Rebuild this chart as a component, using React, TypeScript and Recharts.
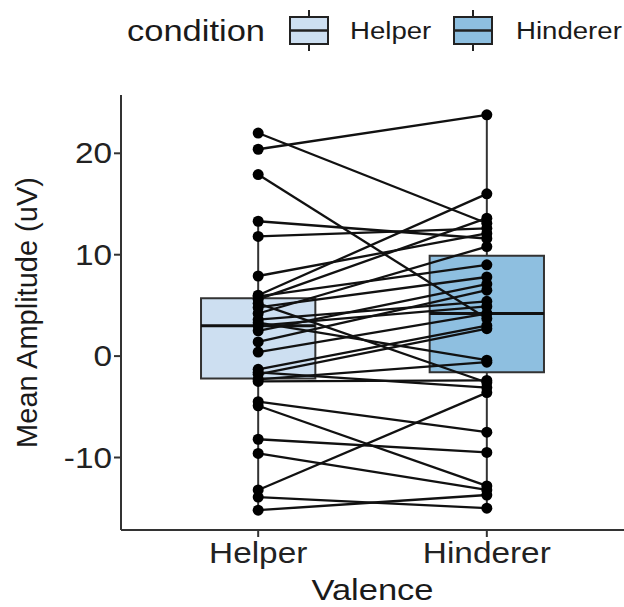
import React from 'react';
import { ComposedChart, Scatter, XAxis, YAxis, ReferenceArea, ReferenceLine } from 'recharts';

// categories and paired subject values (Helper -> Hinderer)
const conditions = ['Helper', 'Hinderer'];
const helperValues = [
  22.0, 20.4, 17.9, 13.3, 11.8, 7.9, 6.0, 5.9, 5.6, 5.2, 4.8, 4.2, 3.6, 3.3, 3.0,
  2.5, 1.4, 0.4, -1.3, -1.6, -1.8, -2.3, -2.5, -4.5, -4.9, -8.2, -9.6, -13.2, -13.9, -15.2,
];
const hindererValues = [
  13.1, 23.8, 3.7, 11.6, 12.6, 12.1, 16.0, 9.0, 13.6, -2.6, 7.8, 10.8, 5.4, -0.4, 4.9,
  7.1, 6.5, 4.2, 3.0, -3.1, 2.7, -0.6, -2.4, -7.5, -12.8, -9.5, -13.2, -3.6, -15.0, -13.7,
];

// boxplot stats per condition
const boxQ1 = [-2.2, -1.6];
const boxMedian = [3.0, 4.2];
const boxQ3 = [5.7, 9.9];
const whiskerLow = [-15.2, -15.0];
const whiskerHigh = [13.3, 23.8];
const boxFills = ['#cddff1', '#8ebfe0'];

const yTicks = [-10, 0, 10, 20];
const xTicks = [1, 2];

const font = 'Liberation Sans, Arial, Helvetica, sans-serif';
const axisColor = '#333333';
const halfWidth = 0.25;
const stretch = 1.15; // reference text is a bit wider than it is tall

const dot = (p: { cx?: number; cy?: number }) => <circle cx={p.cx} cy={p.cy} r={5.5} fill="#000" />;

function WideText({ x, y, size, anchor, children, fill = '#1a1a1a' }: any) {
  return (
    <text
      transform={`translate(${x},${y}) scale(${stretch},1)`}
      fontSize={size}
      fontFamily={font}
      fill={fill}
      textAnchor={anchor}
    >
      {children}
    </text>
  );
}

const XTick = ({ x, y, payload }: any) => (
  <WideText x={x} y={y + 24} size={29} anchor="middle" fill="#222">
    {conditions[payload.value - 1]}
  </WideText>
);

const YTick = ({ x, y, payload }: any) => (
  <WideText x={x} y={y + 10} size={29} anchor="end" fill="#222">
    {payload.value}
  </WideText>
);

function LegendKey({ x, fill }: { x: number; fill: string }) {
  return (
    <g>
      <line x1={x + 19} x2={x + 19} y1={10} y2={51} stroke="#222" strokeWidth={2} />
      <rect x={x} y={17} width={38} height={27} fill={fill} stroke="#222" strokeWidth={2} />
      <line x1={x} x2={x + 38} y1={30.5} y2={30.5} stroke="#222" strokeWidth={2.5} />
    </g>
  );
}

export default function App() {
  const subjects = helperValues.map((h, i) => [
    { x: 1, y: h },
    { x: 2, y: hindererValues[i] },
  ]);

  return (
    <div style={{ position: 'absolute', left: 0, top: 0, width: 624, height: 607, background: '#fff', fontFamily: font }}>
      <svg width={624} height={70} style={{ position: 'absolute', left: 0, top: 0 }}>
        <WideText x={127} y={41} size={30}>condition</WideText>
        <LegendKey x={290} fill={boxFills[0]} />
        <WideText x={350} y={39} size={24}>{conditions[0]}</WideText>
        <LegendKey x={454} fill={boxFills[1]} />
        <WideText x={516} y={39} size={24}>{conditions[1]}</WideText>
      </svg>
      <div style={{ position: 'absolute', left: 0, top: 0 }}>
        <ComposedChart width={624} height={607} margin={{ top: 95, right: 0, bottom: 0, left: 0 }}>
          <XAxis
            type="number"
            dataKey="x"
            domain={[0.4, 2.6]}
            ticks={xTicks}
            allowDataOverflow
            height={77}
            tickSize={7}
            axisLine={{ stroke: axisColor, strokeWidth: 2 }}
            tickLine={{ stroke: axisColor, strokeWidth: 2 }}
            tick={<XTick />}
            label={({ viewBox }: any) => (
              <WideText x={viewBox.x + viewBox.width / 2} y={600} size={30} anchor="middle">
                Valence
              </WideText>
            )}
          />
          <YAxis
            type="number"
            dataKey="y"
            domain={[-17.15, 25.75]}
            ticks={yTicks}
            allowDataOverflow
            width={121}
            tickSize={7}
            axisLine={{ stroke: axisColor, strokeWidth: 2 }}
            tickLine={{ stroke: axisColor, strokeWidth: 2 }}
            tick={<YTick />}
            label={{ value: 'Mean Amplitude (uV)', angle: -90, position: 'insideLeft', offset: 27, fill: '#1a1a1a', fontSize: 29, fontFamily: font, style: { textAnchor: 'middle' } }}
          />
          {conditions.map((c, i) => (
            <ReferenceLine
              key={`wl-${c}`}
              segment={[{ x: i + 1, y: whiskerLow[i] }, { x: i + 1, y: boxQ1[i] }]}
              stroke={axisColor}
              strokeWidth={2}
            />
          ))}
          {conditions.map((c, i) => (
            <ReferenceLine
              key={`wh-${c}`}
              segment={[{ x: i + 1, y: boxQ3[i] }, { x: i + 1, y: whiskerHigh[i] }]}
              stroke={axisColor}
              strokeWidth={2}
            />
          ))}
          {conditions.map((c, i) => (
            <ReferenceArea
              key={`box-${c}`}
              x1={i + 1 - halfWidth}
              x2={i + 1 + halfWidth}
              y1={boxQ1[i]}
              y2={boxQ3[i]}
              fill={boxFills[i]}
              fillOpacity={1}
              stroke={axisColor}
              strokeWidth={2}
            />
          ))}
          {conditions.map((c, i) => (
            <ReferenceLine
              key={`med-${c}`}
              segment={[{ x: i + 1 - halfWidth, y: boxMedian[i] }, { x: i + 1 + halfWidth, y: boxMedian[i] }]}
              stroke="#111"
              strokeWidth={3}
            />
          ))}
          {subjects.map((s, i) => (
            <Scatter
              key={`s-${i}`}
              data={s}
              line={{ stroke: '#111', strokeWidth: 2.3 }}
              shape={dot}
              isAnimationActive={false}
            />
          ))}
        </ComposedChart>
      </div>
    </div>
  );
}
